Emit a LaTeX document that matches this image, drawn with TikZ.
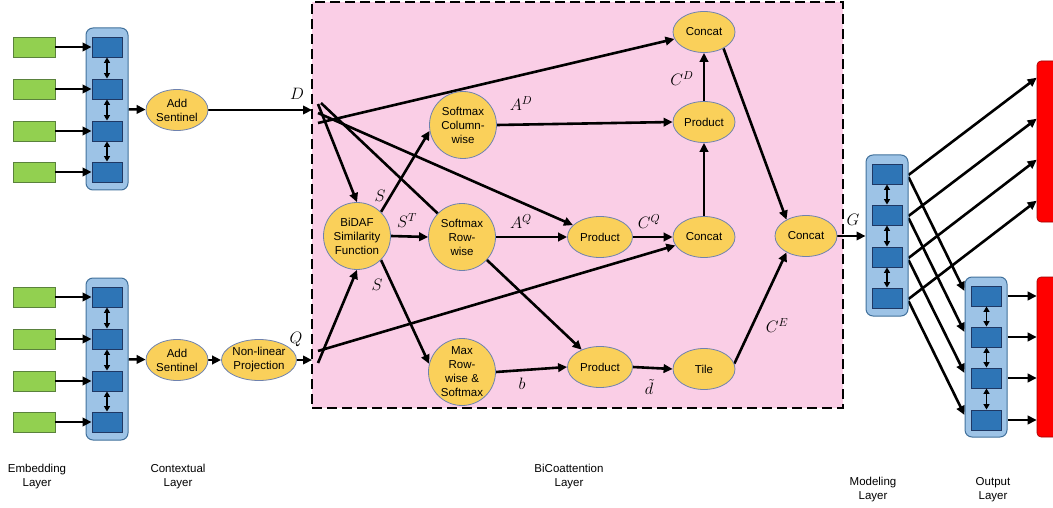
\RequirePackage{fix-cm}
\documentclass[tikz,border=0pt]{standalone}
\usepackage{fontspec}
\setmainfont{Liberation Sans}
\usetikzlibrary{shapes.geometric,arrows.meta,calc}
\pgfdeclarelayer{bg}
\pgfdeclarelayer{edges}
\pgfsetlayers{bg,edges,main}
\definecolor{embG}{RGB}{146,208,80}
\definecolor{embB}{RGB}{90,130,60}
\definecolor{cellF}{RGB}{46,117,182}
\definecolor{cellB}{RGB}{31,56,100}
\definecolor{contF}{RGB}{157,195,230}
\definecolor{contB}{RGB}{65,113,156}
\definecolor{opF}{RGB}{250,208,90}
\definecolor{opB}{RGB}{110,130,175}
\definecolor{pinkF}{RGB}{250,206,230}
\definecolor{redF}{RGB}{255,0,0}
\definecolor{redB}{RGB}{160,0,0}
\begin{document}
\begin{tikzpicture}[x=1pt,y=-1pt,
  emb/.style={draw=embB,fill=embG,line width=0.7pt,minimum width=42pt,minimum height=20pt,inner sep=0pt},
  cell/.style={draw=cellB,fill=cellF,line width=0.9pt,minimum width=30pt,minimum height=20pt,inner sep=0pt},
  cont/.style={draw=contB,fill=contF,line width=1pt,rounded corners=7pt,minimum width=42pt,inner sep=0pt},
  op/.style={ellipse,draw=opB,fill=opF,line width=0.8pt,minimum width=62pt,minimum height=41pt,inner sep=0pt,
    font=\fontsize{11.5}{14}\selectfont,align=center},
  circ/.style={circle,draw=opB,fill=opF,line width=0.8pt,minimum size=67pt,inner sep=0pt,
    font=\fontsize{11.5}{14}\selectfont,align=center},
  redbox/.style={draw=redB,fill=redF,line width=0.6pt,rounded corners=4pt,minimum width=24pt,inner sep=0pt},
  arr/.style={line width=2.6pt,-{Triangle[length=9pt,width=8.5pt]}},
  darr/.style={line width=1.8pt,{Triangle[length=5.5pt,width=6pt]}-{Triangle[length=5.5pt,width=6pt]}},
  mlab/.style={font=\fontsize{16.5}{16.5}\selectfont,inner sep=0pt},
  layerlab/.style={font=\fontsize{11.5}{14}\selectfont,align=center,inner sep=0pt}
]
\useasboundingbox (0,0) rectangle (1053,508);

% BiCoattention background
\begin{pgfonlayer}{bg}
\node[draw=black,fill=pinkF,line width=2.8pt,dash pattern=on 10pt off 5pt,
  minimum width=531pt,minimum height=406pt,inner sep=0pt] (bico) at (577.5,205) {};
\end{pgfonlayer}

% Embedding + contextual (document / question)
\node[cont,minimum height=162pt] (ctxA) at (107,109) {};
\node[cont,minimum height=162pt] (ctxB) at (107,359) {};
\foreach \i/\y in {1/47,2/89,3/131,4/172}{
  \node[emb] (ea\i) at (34,\y) {};
  \node[cell] (ca\i) at (107,\y) {};
  \draw[arr] (ea\i) -- (ca\i);
}
\foreach \i/\y in {1/297,2/339,3/381,4/422}{
  \node[emb] (eb\i) at (34,\y) {};
  \node[cell] (cb\i) at (107,\y) {};
  \draw[arr] (eb\i) -- (cb\i);
}
\foreach \a/\b in {1/2,2/3,3/4}{
  \draw[darr] (ca\a) -- (ca\b);
  \draw[darr] (cb\a) -- (cb\b);
}

\node[op] (sentA) at (177,110) {Add\\Sentinel};
\node[op] (sentB) at (177,360) {Add\\Sentinel};
\node[op] (nlp) at (259,360) {Non-linear\\Projection};

\coordinate (Din) at (312,110);
\coordinate (Dsrc) at (318,112);
\coordinate (Qin) at (312,360);
\coordinate (Qsrc) at (318,355);

% BiCoattention nodes
\node[circ] (bidaf) at (357,236) {BiDAF\\Similarity\\Function};
\node[circ] (smCol) at (463,125) {Softmax\\Column-\\wise};
\node[circ] (smRow) at (462,237) {Softmax\\Row-\\wise};
\node[circ] (maxRow) at (462,372) {Max\\Row-\\wise \&\\Softmax};
\node[op,minimum width=65pt] (prodM) at (600,237) {Product};
\node[op,minimum width=65pt] (prodB) at (600,367) {Product};
\node[op] (concatT) at (704,32) {Concat};
\node[op] (prodT) at (704,122) {Product};
\node[op] (concatM) at (704,237) {Concat};
\node[op] (tile) at (704,369) {Tile};
\node[op] (concatR) at (806,236) {Concat};

% Modeling and output
\node[cont,minimum height=161pt] (mcont) at (887,235.5) {};
\foreach \i/\y in {1/174,2/215,3/257,4/298}{
  \node[cell] (mc\i) at (887,\y) {};
}
\node[cont,minimum height=160pt] (ocont) at (986,357) {};
\foreach \i/\y in {1/296,2/337,3/378,4/420}{
  \node[cell] (oc\i) at (986.5,\y) {};
}
\foreach \a/\b in {1/2,2/3,3/4}{
  \draw[darr] (mc\a) -- (mc\b);
  \draw[darr] (oc\a) -- (oc\b);
}
\node[redbox,minimum height=161pt] (redT) at (1049,141.5) {};
\node[redbox,minimum height=160pt] (redBt) at (1049,357) {};

% Labels
\node[mlab] (Dl) at (297,94) {$D$};
\node[mlab] (Ql) at (296,339) {$Q$};
\node[mlab] (S1) at (380,196) {$S$};
\node[mlab] (ST) at (407,221) {$S^T$};
\node[mlab] (S2) at (377,285) {$S$};
\node[mlab] (AD) at (521,104) {$A^D$};
\node[mlab] (AQ) at (521,222) {$A^Q$};
\node[mlab] (bl) at (522,384) {$b$};
\node[mlab] (CD) at (682,79) {$C^D$};
\node[mlab] (CQ) at (649,222) {$C^Q$};
\node[mlab] (dl) at (649,387) {$\tilde{d}$};
\node[mlab] (CE) at (777,326) {$C^E$};
\node[mlab] (Gl) at (853,220) {$G$};

\node[layerlab] (L1) at (37,477) {Embedding\\Layer};
\node[layerlab] (L2) at (178,477) {Contextual\\Layer};
\node[layerlab] (L3) at (569,477) {BiCoattention\\Layer};
\node[layerlab] (L4) at (873,490) {Modeling\\Layer};
\node[layerlab] (L5) at (993,490) {Output\\Layer};

\begin{pgfonlayer}{edges}
% contextual
\draw[arr] (ctxA) -- (sentA);
\draw[arr] (ctxB) -- (sentB);
\draw[arr] (sentB) -- (nlp);
\draw[arr] (sentA) -- (Din);
\draw[arr] (nlp) -- (Qin);
% from D
\draw[arr] ([yshift=-11pt]Dsrc) -- (concatT);
\draw[arr] ([yshift=-1pt]Dsrc) -- (prodM);
\draw[arr] ([yshift=8pt]Dsrc) -- (bidaf.north);
\draw[arr] ([xshift=3pt,yshift=9pt]Dsrc) -- (prodB);
% from Q
\draw[arr] ([yshift=-8pt]Qsrc) -- (bidaf.south);
\draw[arr] ([yshift=4pt]Qsrc) -- (concatM);
% similarity
\draw[arr] (bidaf.north east) -- (smCol.190);
\draw[arr] (bidaf.east) -- (smRow.west);
\draw[arr] (bidaf.south east) -- (maxRow.166);
% attention
\draw[arr] (smCol.east) -- (prodT.west);
\draw[arr] (smRow.east) -- (prodM.west);
\draw[arr] (maxRow.east) -- (prodB.west);
\draw[arr] (prodM.east) -- (concatM.west);
\draw[arr] (prodB.east) -- (tile.west);
\draw[arr] (concatM.north) -- (prodT.south);
\draw[arr] (prodT.north) -- (concatT.south);
\draw[arr] (concatT.-40) -- (concatR.140);
\draw[arr] (tile.10) -- (concatR.220);
\draw[arr] (concatR.east) -- (mcont.west |- concatR.east);
% modeling to output
\foreach \i/\s in {1/-17,2/-58,3/-99,4/-140}{
  \draw[arr] ([yshift=-1pt]mcont.east |- mc\i) -- ([yshift=\s pt]redT.north west);
  \draw[arr] ([yshift=-3pt]mcont.east |- mc\i) -- ([yshift=5pt]ocont.west |- oc\i);
}
\foreach \i in {1,2,3,4}{
  \draw[arr] (ocont.east |- oc\i) -- (redBt.west |- oc\i);
}
\end{pgfonlayer}
\end{tikzpicture}
\end{document}
